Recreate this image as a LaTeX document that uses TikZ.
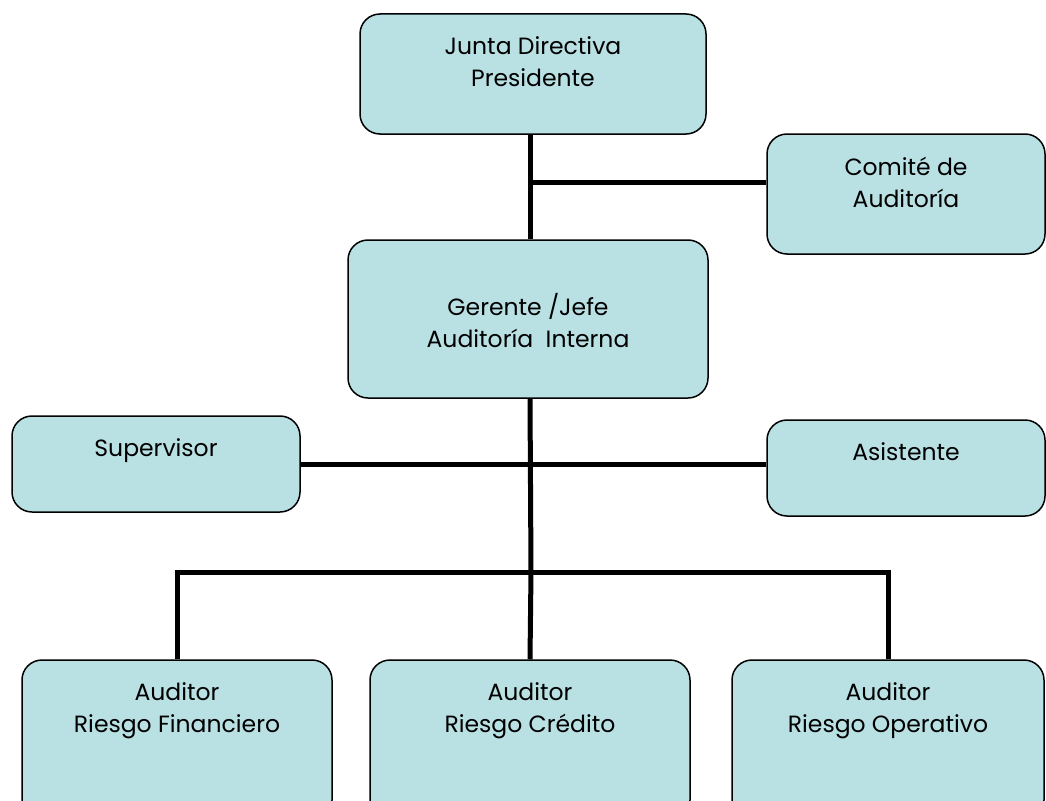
\documentclass[tikz,border=0pt]{standalone}
\usepackage{fontspec}
\setmainfont{Poppins}
\definecolor{boxblue}{RGB}{185,224,227}
\tikzset{
  unitbox/.style={draw, line width=1.5pt, rounded corners=20pt, fill=boxblue, inner sep=0pt},
  boxtext/.style={anchor=north, yshift=-20pt, align=center, font=\fontsize{23.5}{32}\selectfont},
  orgline/.style={line width=5pt},
}
\begin{document}
\begin{tikzpicture}[x=1pt, y=-1pt]
  \useasboundingbox (0,0) rectangle (1046,800);
  \clip (0,0) rectangle (1046,800);
  % boxes
  \node[unitbox, minimum width=346pt, minimum height=120pt,
    label={[boxtext]north:{Junta Directiva\\Presidente}}] (junta) at (533,74) {};
  \node[unitbox, minimum width=278pt, minimum height=120pt,
    label={[boxtext]north:{Comité de\\Auditoría}}] (comite) at (906,194) {};
  \node[unitbox, minimum width=360pt, minimum height=158pt,
    label={[boxtext, yshift=-31pt]north:{Gerente /Jefe\\Auditoría\ \ Interna}}] (gerente) at (528,319) {};
  \node[unitbox, minimum width=288pt, minimum height=96pt,
    label={[boxtext]north:{Supervisor}}] (supervisor) at (156,464) {};
  \node[unitbox, minimum width=278pt, minimum height=96pt,
    label={[boxtext]north:{Asistente}}] (asistente) at (906,468) {};
  \node[unitbox, minimum width=310pt, minimum height=160pt,
    label={[boxtext]north:{Auditor\\Riesgo Financiero}}] (fin) at (177,740) {};
  \node[unitbox, minimum width=320pt, minimum height=160pt,
    label={[boxtext]north:{Auditor\\Riesgo Crédito}}] (cre) at (530,740) {};
  \node[unitbox, minimum width=312pt, minimum height=160pt,
    label={[boxtext]north:{Auditor\\Riesgo Operativo}}] (ope) at (888,740) {};
  % lines
  \coordinate (trunk) at (530,0);
  \coordinate (j1) at (530,182);
  \coordinate (j3) at (531,572);
  \draw[orgline] (trunk |- junta.south) -- (trunk |- gerente.north);
  \draw[orgline] (j1) -- (j1 -| comite.west);
  \draw[orgline] (trunk |- gerente.south) -- (j3);
  \draw[orgline] (supervisor.east) -- (supervisor.east -| asistente.west);
  \draw[orgline] (fin.north) -- (fin.north |- j3) -- (ope.north |- j3) -- (ope.north);
  \draw[orgline] (j3) -- (cre.north);
\end{tikzpicture}
\end{document}
